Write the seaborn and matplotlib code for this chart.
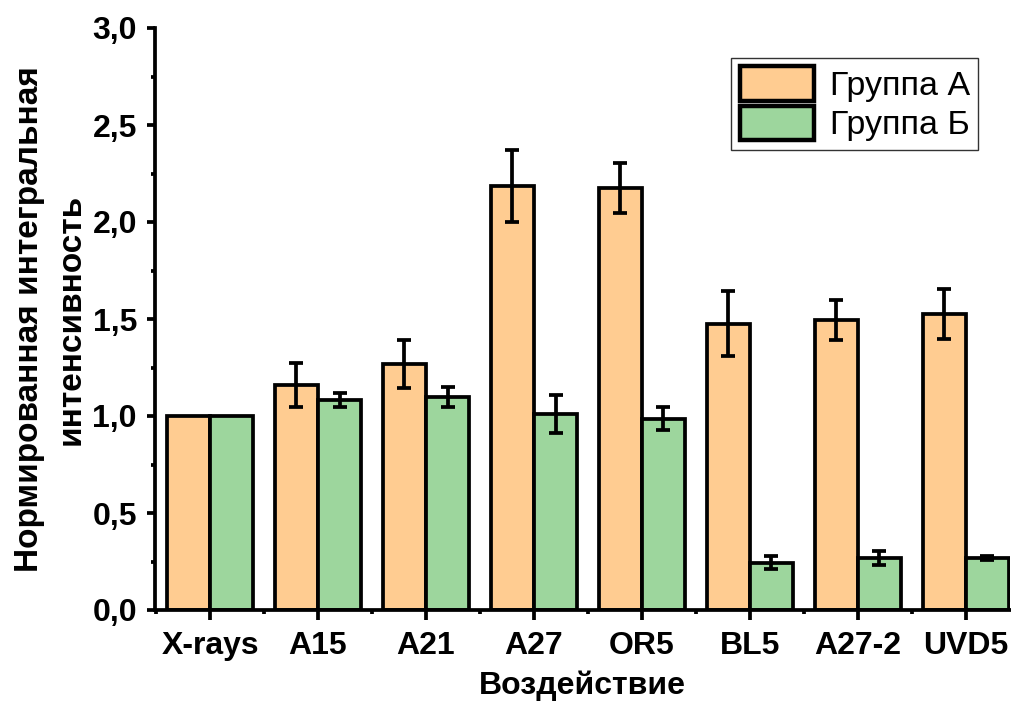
import numpy as np
import pandas as pd
import matplotlib
matplotlib.use("Agg")
import matplotlib.pyplot as plt
import seaborn as sns
from matplotlib.ticker import FixedLocator, MultipleLocator

# ---- data ----
categories = ["X-rays", "A15", "A21", "A27", "OR5", "BL5", "A27-2", "UVD5"]
groups = ["Группа А", "Группа Б"]
group_a = [1.0, 1.16, 1.268, 2.186, 2.174, 1.476, 1.495, 1.526]
group_a_err = [0.0, 0.112, 0.125, 0.184, 0.13, 0.167, 0.105, 0.13]
group_b = [1.0, 1.082, 1.099, 1.01, 0.987, 0.244, 0.268, 0.268]
group_b_err = [0.0, 0.036, 0.053, 0.097, 0.058, 0.035, 0.036, 0.012]
y_ticks = [0.0, 0.5, 1.0, 1.5, 2.0, 2.5, 3.0]
y_tick_labels = ["0,0", "0,5", "1,0", "1,5", "2,0", "2,5", "3,0"]
x_label = "Воздействие"
y_label = "Нормированная интегральная\nинтенсивность"
colors = ["#FFCC91", "#9DD69D"]

sns.set_theme(style="ticks")
plt.rcParams['font.family'] = ['Liberation Sans', 'DejaVu Sans']
plt.rcParams['text.color'] = 'black'
plt.rcParams['axes.labelcolor'] = 'black'

df = pd.DataFrame({
    "cat": categories * 2,
    "value": group_a + group_b,
    "group": [groups[0]] * len(categories) + [groups[1]] * len(categories),
})

fig = plt.figure(figsize=(10.12, 7.02), dpi=100)
ax = fig.add_axes([155 / 1012, 92 / 702, 855 / 1012, 582 / 702])

sns.barplot(data=df, x="cat", y="value", hue="group", order=categories,
            hue_order=groups, palette=colors, errorbar=None, width=0.8,
            saturation=1, edgecolor="black", linewidth=2.7, ax=ax)

for cont, err in zip(ax.containers, [group_a_err, group_b_err]):
    xs = np.array([p.get_x() + p.get_width() / 2 for p in cont])
    ys = np.array([p.get_height() for p in cont])
    e = np.array(err)
    m = e > 0
    ax.errorbar(xs[m], ys[m], yerr=e[m], fmt='none', ecolor='black',
                elinewidth=2.7, capsize=5.2, capthick=2.7, zorder=5)

ax.set_ylim(0, 3)
ax.set_xlim(-0.51, 7.41)
ax.set_yticks(y_ticks)
ax.set_yticklabels(y_tick_labels)
ax.yaxis.set_minor_locator(MultipleLocator(0.25))
ax.xaxis.set_minor_locator(FixedLocator(np.arange(-0.5, 8, 1)))
ax.tick_params(which='major', length=6, width=2.7, direction='out',
               labelsize=23, pad=7, colors='black')
ax.tick_params(axis='x', which='major', length=7, pad=8)
ax.tick_params(which='minor', length=3, width=2.7, direction='out', colors='black')
for lbl in ax.get_xticklabels() + ax.get_yticklabels():
    lbl.set_fontweight('bold')

for s in ["top", "right"]:
    ax.spines[s].set_visible(False)
for s in ["left", "bottom"]:
    ax.spines[s].set_linewidth(2.7)
    ax.spines[s].set_color('black')

ax.set_xlabel(x_label, fontsize=23, fontweight='bold', labelpad=7, color='black')
ax.set_ylabel(y_label, fontsize=24, fontweight='bold', linespacing=1.45,
              labelpad=4, color='black')

leg = ax.legend(title=None, loc='upper right', bbox_to_anchor=(0.963, 0.949),
                frameon=True, fancybox=False, edgecolor='black', fontsize=24.5,
                handlelength=2.2, handleheight=1.2, handletextpad=0.45,
                labelspacing=0.1, borderpad=0.25, borderaxespad=0)
leg.get_frame().set_linewidth(1)
for t in leg.get_texts():
    t.set_color('black')
for h in leg.legend_handles:
    h.set_linewidth(3.2)
    h.set_edgecolor('black')

fig.savefig("out.png", dpi=100)
